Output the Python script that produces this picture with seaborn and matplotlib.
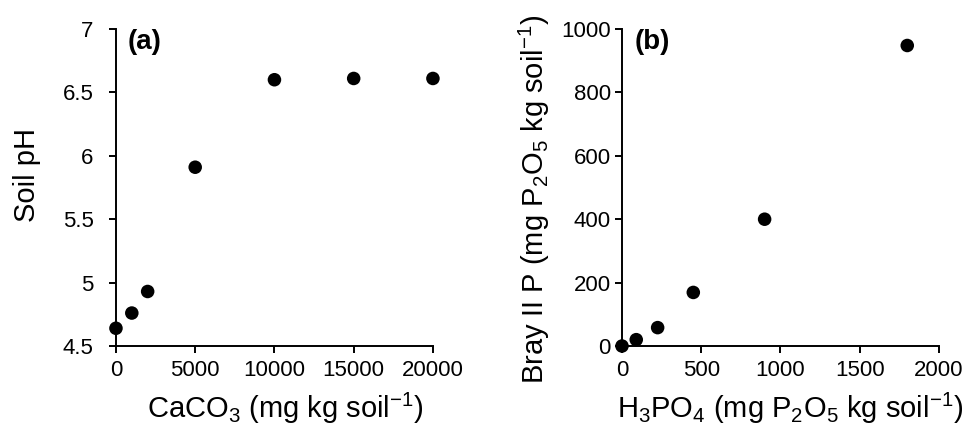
import matplotlib
matplotlib.use("Agg")
import matplotlib.pyplot as plt
import seaborn as sns

# panel (a): soil pH vs lime rate
caco3 = [0, 1000, 2000, 5000, 10000, 15000, 20000]
soil_ph = [4.64, 4.76, 4.93, 5.91, 6.60, 6.61, 6.61]

# panel (b): Bray II P vs phosphoric acid rate
h3po4 = [0, 90, 225, 450, 900, 1800]
bray_p = [0, 20, 58, 169, 400, 948]

sns.set_style("ticks")
plt.rcParams['font.family'] = ['Liberation Sans', 'DejaVu Sans']
plt.rcParams['mathtext.fontset'] = 'custom'
plt.rcParams['mathtext.rm'] = 'Liberation Sans'
plt.rcParams['mathtext.it'] = 'Liberation Sans'
plt.rcParams['text.color'] = 'black'
plt.rcParams['axes.labelcolor'] = 'black'

fig = plt.figure(figsize=(9.72, 4.33), dpi=100)
ax1 = fig.add_axes([0.1193, 0.2009, 0.3261, 0.7321])
ax2 = fig.add_axes([0.6399, 0.2009, 0.3261, 0.7321])

sns.scatterplot(x=caco3, y=soil_ph, ax=ax1, color='black', s=95,
                edgecolor='none', clip_on=False, zorder=3)
sns.scatterplot(x=h3po4, y=bray_p, ax=ax2, color='black', s=95,
                edgecolor='none', clip_on=False, zorder=3)

ax1.set_xlim(0, 20000)
ax1.set_ylim(4.5, 7)
ax1.set_xticks([0, 5000, 10000, 15000, 20000])
ax1.set_yticks([4.5, 5, 5.5, 6, 6.5, 7])
ax1.set_yticklabels(['4.5', '5', '5.5', '6', '6.5', '7'])
ax1.set_xlabel(r'CaCO$_3$ (mg kg soil$^{-1}$)', fontsize=21)
ax1.set_ylabel('Soil pH', fontsize=21)
ax1.xaxis.set_label_coords(0.535, -0.14)
ax1.yaxis.set_label_coords(-0.235, 0.54)
ax1.text(0.038, 1.0, '(a)', transform=ax1.transAxes, fontsize=20,
         fontweight='bold', va='top', ha='left')

ax2.set_xlim(0, 2000)
ax2.set_ylim(0, 1000)
ax2.set_xticks([0, 500, 1000, 1500, 2000])
ax2.set_yticks([0, 200, 400, 600, 800, 1000])
ax2.set_xlabel(r'H$_3$PO$_4$ (mg P$_2$O$_5$ kg soil$^{-1}$)', fontsize=21)
ax2.set_ylabel(r'Bray II P (mg P$_2$O$_5$ kg soil$^{-1}$)', fontsize=21)
ax2.xaxis.set_label_coords(0.53, -0.14)
ax2.yaxis.set_label_coords(-0.22, 0.464)
ax2.text(0.041, 1.0, '(b)', transform=ax2.transAxes, fontsize=20,
         fontweight='bold', va='top', ha='left')

for ax in (ax1, ax2):
    sns.despine(ax=ax)
    for sp in ('left', 'bottom'):
        ax.spines[sp].set_linewidth(1.4)
        ax.spines[sp].set_color('black')
    ax.tick_params(axis='both', labelsize=16, length=5, width=1.4,
                   colors='black', direction='out')
    ax.tick_params(axis='x', pad=5)

# left panel's y labels sit further from the axis than the right panel's
ax1.tick_params(axis='y', pad=11)
ax2.tick_params(axis='y', pad=3)

fig.savefig('out.png', dpi=100)
